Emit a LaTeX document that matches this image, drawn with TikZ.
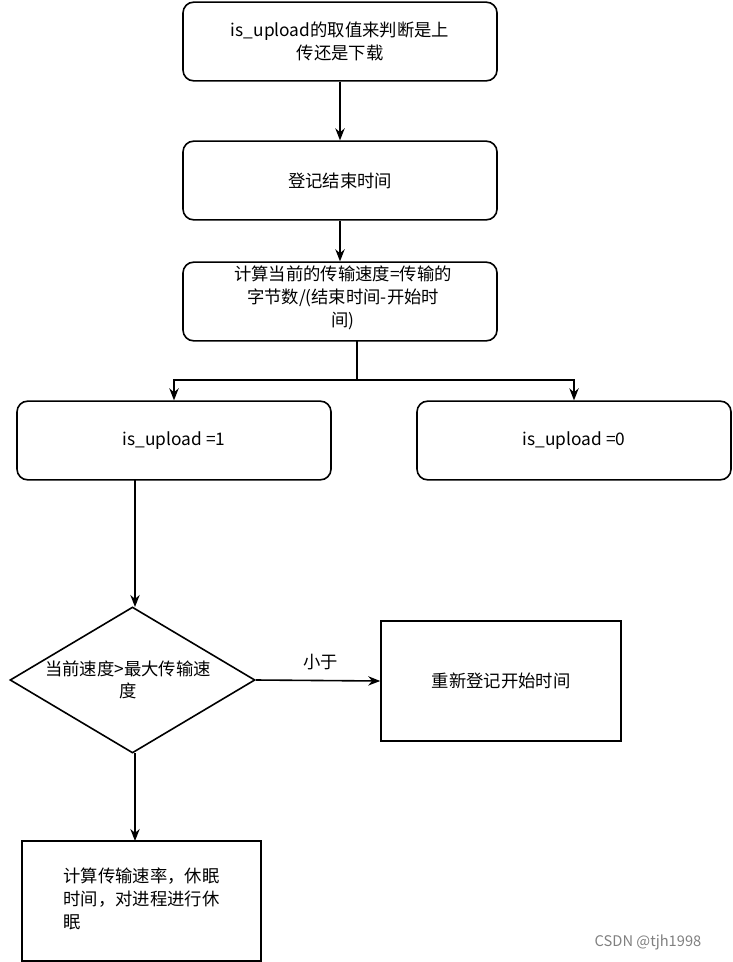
\documentclass[tikz,border=0pt]{standalone}
\usepackage{fontspec}
\setmainfont{Noto Sans CJK SC}
\usetikzlibrary{shapes.geometric,arrows.meta}
\begin{document}
\begin{tikzpicture}[x=0.75pt,y=-0.75pt,
  every node/.style={font=\fontsize{13}{17}\selectfont},
  rbox/.style={draw,line width=1.2pt,rounded corners=8pt,minimum width=235.5pt,minimum height=59pt,align=center,inner sep=0pt},
  sbox/.style={draw,line width=1.2pt,minimum width=180pt,minimum height=90pt,align=center,inner sep=0pt},
  arr/.style={line width=1.2pt,-{Stealth[length=9pt,width=7pt]}}]
\useasboundingbox (0,0) rectangle (732,962);
\node[rbox] (b1) at (340,41.5) {is\_upload的取值来判断是上\\传还是下载};
\node[rbox] (b2) at (340,180.5) {登记结束时间};
\node[rbox] (b3) at (340,301.5) {};
\node[align=center] at (343,298) {计算当前的传输速度=传输的\\字节数/(结束时间-开始时\\间)};
\node[rbox] (b4) at (174,440.5) {is\_upload =1};
\node[rbox] (b5) at (574,440.5) {is\_upload =0};
\node[diamond,draw,line width=1.2pt,minimum width=183.75pt,minimum height=109.5pt,inner sep=0pt] (d) at (132.5,680) {};
\node[align=center] at (128,680) {当前速度>最大传输速\\度};
\node[sbox] (r1) at (501,681) {重新登记开始时间};
\node[sbox,minimum width=179pt] (r2) at (141.5,901) {};
\node[align=left] at (141.5,899) {计算传输速率，休眠\\时间，对进程进行休\\眠};
\coordinate (j) at (357,380);
\draw[arr] (b1) -- (b2);
\draw[arr] (b2) -- (b3);
\draw[line width=1.2pt] (357,341) -- (j);
\draw[arr] (j) -| (b4.north);
\draw[arr] (j) -| (b5.north);
\draw[arr] (135,480) -- (135,607);
\draw[arr] (d.east) -- node[above=4pt,xshift=2pt] {小于} (r1.west);
\draw[arr] (135,753) -- (135,841);
\node[text=gray,font=\fontsize{11}{13}\selectfont] at (648,942) {CSDN @tjh1998};
\end{tikzpicture}
\end{document}
